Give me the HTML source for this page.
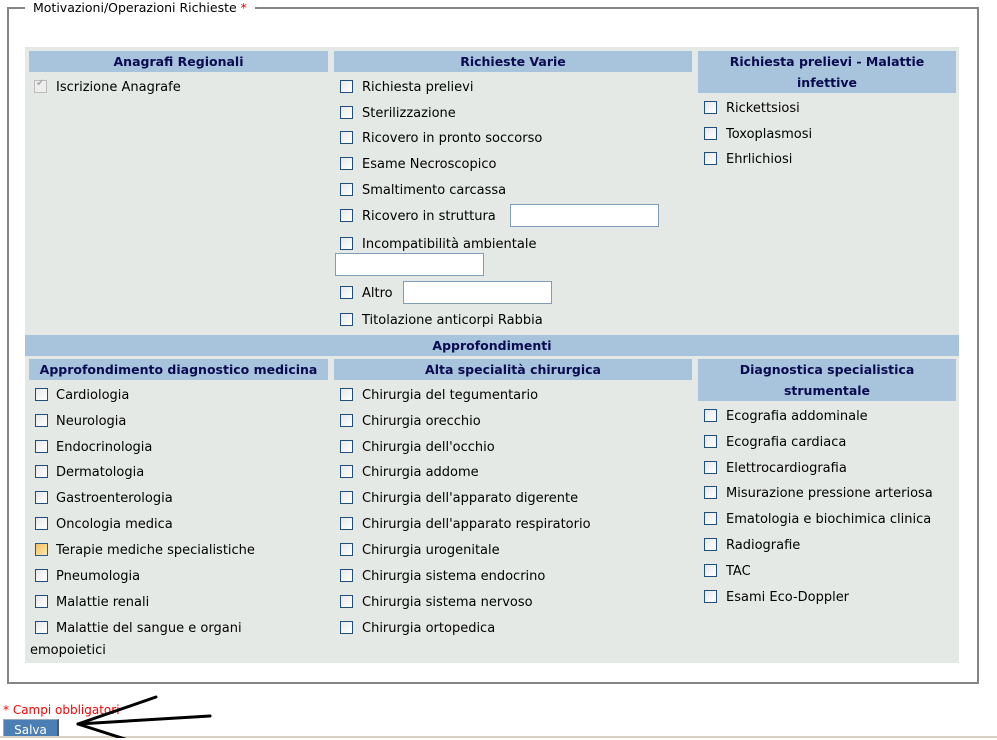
<!DOCTYPE html>
<html><head><meta charset="utf-8"><style>
body{margin:0;width:997px;height:738px;position:relative;overflow:hidden;background:#fff;font-family:"DejaVu Sans","Liberation Sans",sans-serif;font-size:13px;color:#000}
.a{position:absolute;white-space:nowrap}
.fs{position:absolute;left:7px;top:7px;width:968px;height:673px;border:2px solid #858585;box-sizing:content-box}
.lg{position:absolute;left:16px;top:-9px;background:#fff;padding:0 8px;font-size:12.5px;color:#000;line-height:16px}
.panel{position:absolute;left:25px;top:47px;width:934px;height:616px;background:#e5e9e5}
.h{position:absolute;background:#a8c4dc;color:#0a0a50;font-weight:bold;font-size:12.5px;text-align:center;line-height:21px}
.cb{position:absolute;width:11px;height:11px;border:1px solid #1f4f7f;background:linear-gradient(135deg,#e8e8e8,#fff)}
.t{position:absolute;white-space:nowrap;line-height:15px}
.in{position:absolute;background:#fff;border:1px solid #7f9db9;box-sizing:border-box}
</style></head><body>
<div class="fs"><div class="lg">Motivazioni/Operazioni Richieste <span style="color:#e00">*</span></div></div>
<div class="panel"></div>
<div class="h" style="left:29px;top:51px;width:299px">Anagrafi Regionali</div>
<div class="h" style="left:334px;top:51px;width:358px">Richieste Varie</div>
<div class="h" style="left:698px;top:51px;width:258px">Richiesta prelievi - Malattie infettive</div>
<div class="h" style="left:25px;top:335px;width:934px">Approfondimenti</div>
<div class="h" style="left:29px;top:359px;width:299px">Approfondimento diagnostico medicina</div>
<div class="h" style="left:334px;top:359px;width:358px">Alta specialità chirurgica</div>
<div class="h" style="left:698px;top:359px;width:258px">Diagnostica specialistica strumentale</div>

<div class="cb" style="left:34px;top:80px;border-color:#bbb;background:#eee"><span style="position:absolute;left:1px;top:-3px;font-size:10px;color:#aaa">✔</span></div>
<div class="t" style="left:56px;top:80px">Iscrizione Anagrafe</div>

<script>
function add(x,tx,ys,labels){var h='';for(var i=0;i<ys.length;i++){h+='<div class="cb" style="left:'+x+'px;top:'+(ys[i]-6)+'px"></div><div class="t" style="left:'+tx+'px;top:'+(ys[i]-6)+'px">'+labels[i]+'</div>';}document.body.insertAdjacentHTML('beforeend',h);}
add(340,362,[86,112,137,163,189,215,243,292,319],['Richiesta prelievi','Sterilizzazione','Ricovero in pronto soccorso','Esame Necroscopico','Smaltimento carcassa','Ricovero in struttura','Incompatibilità ambientale','Altro','Titolazione anticorpi Rabbia']);
add(704,726,[107,133,158],['Rickettsiosi','Toxoplasmosi','Ehrlichiosi']);
add(35,56,[394,420,446,471,497,523,549,575,601,627],['Cardiologia','Neurologia','Endocrinologia','Dermatologia','Gastroenterologia','Oncologia medica','Terapie mediche specialistiche','Pneumologia','Malattie renali','Malattie del sangue e organi']);
add(340,362,[394,420,446,471,497,523,549,575,601,627],['Chirurgia del tegumentario','Chirurgia orecchio','Chirurgia dell\'occhio','Chirurgia addome','Chirurgia dell\'apparato digerente','Chirurgia dell\'apparato respiratorio','Chirurgia urogenitale','Chirurgia sistema endocrino','Chirurgia sistema nervoso','Chirurgia ortopedica']);
add(704,726,[415,441,467,492,518,544,570,596],['Ecografia addominale','Ecografia cardiaca','Elettrocardiografia','Misurazione pressione arteriosa','Ematologia e biochimica clinica','Radiografie','TAC','Esami Eco-Doppler']);
</script>
<div class="cb" style="left:35px;top:543px;border-color:#2a5a8a;background:linear-gradient(135deg,#f6c060,#fde8b0)"></div>
<div class="t" style="left:30px;top:643px">emopoietici</div>
<div class="in" style="left:510px;top:204px;width:149px;height:23px"></div>
<div class="in" style="left:335px;top:253px;width:149px;height:23px"></div>
<div class="in" style="left:403px;top:281px;width:149px;height:23px"></div>

<div class="a" style="left:3px;top:703px;color:#f00;font-size:12px">* Campi obbligatori</div>
<div class="a" style="left:3px;top:719px;width:56px;height:19px;background:#4a7eb4;border-top:1px solid #9ab;border-left:1px solid #9ab;border-right:2px solid #556;box-sizing:border-box;color:#fff;font-size:12px;text-align:center;line-height:20px">Salva</div>
<div class="a" style="left:0;top:736px;width:997px;height:2px;background:#d8d0c0"></div>
<svg class="a" style="left:0;top:0" width="997" height="738"><g stroke="#000" stroke-width="3" fill="none" stroke-linecap="round"><line x1="78" y1="724" x2="156" y2="697"/><line x1="78" y1="724" x2="210" y2="716"/><line x1="78" y1="724" x2="128" y2="740"/></g></svg>
</body></html>
